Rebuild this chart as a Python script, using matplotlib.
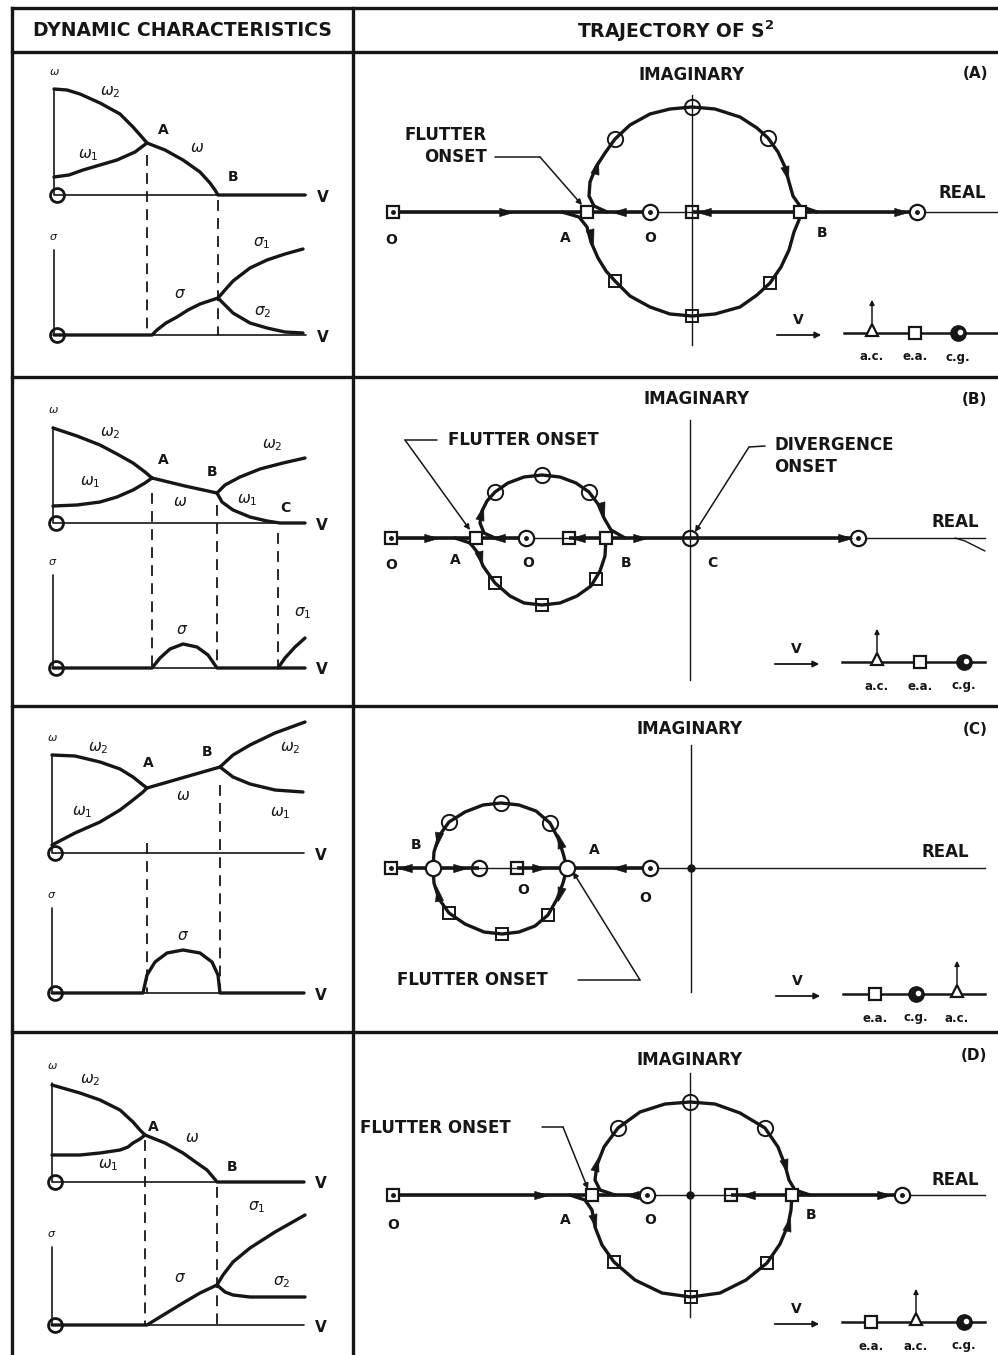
import matplotlib
matplotlib.use('Agg')
import matplotlib.pyplot as plt
from matplotlib.markers import MarkerStyle
from matplotlib.path import Path
from matplotlib.transforms import Affine2D

plt.rcParams['font.family'] = ['DejaVu Sans']
plt.rcParams['mathtext.fontset'] = 'dejavusans'

INK = '#161616'
W, H = 998, 1355
UNIT = 10        # pixels per data unit inside every panel
V_END = 25.2     # length of the V axes in the left column

# ------------------------------------------------------------------
# Dynamic characteristics (left column): curves as (V, omega) / (V, sigma)
# ------------------------------------------------------------------
A_OMEGA2 = [(0, 10.6), (1.3, 10.5), (2.6, 10.1), (4.6, 9.2), (6.6, 8.1), (7.9, 6.8), (8.7, 5.9), (9.3, 5.2)]
A_OMEGA1 = [(0, 1.8), (1.5, 2.0), (2.9, 2.5), (4.6, 3.0), (6.3, 3.5), (8.1, 4.3), (9.3, 5.2)]
A_OMEGA = [(9.3, 5.2), (11.1, 4.5), (12.9, 3.5), (14.6, 2.3), (15.6, 1.2), (16.1, 0.5), (16.4, 0), (25.1, 0)]
A_SIGMA = [(0, 0), (9.8, 0), (10.3, 0.5), (11.2, 1.2), (12.3, 1.8), (13.4, 2.5), (14.6, 3.1), (16.4, 3.7)]
A_SIGMA1 = [(16.4, 3.7), (17.1, 4.5), (17.9, 5.4), (19.6, 6.7), (21.3, 7.5), (23.1, 8.1), (24.9, 8.6)]
A_SIGMA2 = [(16.4, 3.7), (17.1, 3.0), (17.9, 2.2), (19.6, 1.2), (21.3, 0.7), (23.1, 0.3), (24.9, 0.2)]
A_DASHES = [(9.3, 4.0), (16.4, -0.5)]
A_LEFT_LABELS = [(r'$\omega_2$', 5.6, 10.3, 'w'), (r'$\omega_1$', 3.4, 4.0, 'w'), ('A', 10.9, 6.5, 'w'),
                 (r'$\omega$', 14.3, 4.8, 'w'), ('B', 17.9, 1.8, 'w'), (r'$\sigma$', 12.6, 4.2, 's'),
                 (r'$\sigma_1$', 20.8, 9.2, 's'), (r'$\sigma_2$', 20.9, 2.3, 's')]

B_OMEGA2 = [(0, 9.5), (2.4, 8.7), (4.7, 7.8), (6.4, 6.9), (8.0, 6.0), (9.2, 5.1), (9.9, 4.5)]
B_OMEGA1 = [(0, 1.7), (2.4, 1.8), (4.7, 2.1), (6.4, 2.6), (8.0, 3.3), (9.2, 4.0), (9.9, 4.5)]
B_OMEGA = [(9.9, 4.5), (13.2, 3.7), (16.4, 3.0)]
B_OMEGA2_HI = [(16.4, 3.0), (17.2, 3.8), (18.7, 4.6), (20.7, 5.4), (23.0, 6.0), (25.2, 6.5)]
B_OMEGA1_HI = [(16.4, 3.0), (16.9, 2.1), (18.0, 1.3), (19.7, 0.6), (21.4, 0.2), (22.7, 0), (25.2, 0)]
B_SIGMA = [(0, 0), (9.9, 0), (10.7, 1.0), (11.7, 1.9), (13.0, 2.4), (14.4, 2.1), (15.5, 1.3), (16.4, 0), (25.2, 0)]
B_SIGMA1 = [(22.5, 0), (23.2, 1.0), (24.2, 2.1), (25.2, 3.0)]
B_DASHES = [(9.9, 3.0), (16.4, 1.8), (22.5, -1.0)]
B_LEFT_LABELS = [(r'$\omega_2$', 5.7, 9.0, 'w'), (r'$\omega_1$', 3.7, 4.1, 'w'), ('A', 11.0, 6.3, 'w'),
                 (r'$\omega$', 12.7, 2.1, 'w'), ('B', 15.9, 5.1, 'w'), (r'$\omega_2$', 21.9, 7.8, 'w'),
                 (r'$\omega_1$', 19.4, 2.3, 'w'), ('C', 23.2, 1.5, 'w'), (r'$\sigma$', 12.9, 3.8, 's'),
                 (r'$\sigma_1$', 25.0, 5.5, 's')]

C_OMEGA2 = [(0, 9.8), (2.3, 9.7), (4.8, 9.1), (6.8, 8.4), (8.1, 7.6), (9.1, 6.8), (9.5, 6.5)]
C_OMEGA1 = [(0, 0.8), (2.3, 2.0), (4.8, 3.1), (6.8, 4.3), (8.1, 5.3), (9.1, 6.1), (9.5, 6.5)]
C_OMEGA = [(9.5, 6.5), (16.8, 8.6)]
C_OMEGA2_HI = [(16.8, 8.6), (18.1, 9.8), (19.8, 10.8), (22.3, 12.0), (25.3, 13.1)]
C_OMEGA1_HI = [(16.8, 8.6), (18.1, 7.6), (19.8, 6.9), (22.3, 6.3), (25.1, 6.1)]
C_SIGMA = [(0, 0), (9.1, 0), (9.5, 1.8), (10.3, 3.1), (11.5, 4.0), (13.1, 4.3), (14.8, 4.0),
           (16.0, 3.1), (16.6, 1.8), (16.8, 0), (25.2, 0)]
C_DASHES = [(9.5, 1.0), (16.8, 6.8)]
C_LEFT_LABELS = [(r'$\omega_2$', 4.6, 10.5, 'w'), (r'$\omega_1$', 3.0, 4.1, 'w'), ('A', 9.6, 9.0, 'w'),
                 (r'$\omega$', 13.1, 5.8, 'w'), ('B', 15.5, 10.1, 'w'), (r'$\omega_2$', 23.8, 10.5, 'w'),
                 (r'$\omega_1$', 22.8, 4.0, 'w'), (r'$\sigma$', 13.1, 5.8, 's')]

D_OMEGA2 = [(0, 9.7), (1.4, 9.3), (2.8, 8.9), (4.8, 8.2), (6.8, 7.2), (8.1, 6.0), (8.8, 5.2), (9.3, 4.7)]
D_OMEGA1 = [(0, 2.7), (2.8, 2.7), (4.8, 2.9), (6.8, 3.2), (7.6, 3.5), (8.1, 3.9), (8.8, 4.3), (9.3, 4.7)]
D_OMEGA = [(9.3, 4.7), (11.3, 3.9), (13.1, 2.9), (14.5, 1.9), (15.5, 1.2), (16.1, 0.5), (16.5, 0), (25.2, 0)]
D_SIGMA = [(0, 0), (9.5, 0), (10.8, 0.8), (13.1, 2.2), (14.8, 3.2), (16.5, 4.0)]
D_SIGMA1 = [(16.5, 4.0), (17.1, 5.0), (18.1, 6.3), (19.8, 7.7), (22.3, 9.3), (25.3, 11.0)]
D_SIGMA2 = [(16.5, 4.0), (17.3, 3.3), (18.1, 3.0), (19.8, 2.8), (22.3, 2.8), (25.3, 2.8)]
D_DASHES = [(9.3, 4.2), (16.5, -0.5)]
D_LEFT_LABELS = [(r'$\omega_2$', 3.8, 10.2, 'w'), ('A', 10.1, 5.5, 'w'), (r'$\omega$', 14.0, 4.5, 'w'),
                 (r'$\omega_1$', 5.6, 1.7, 'w'), ('B', 18.0, 1.5, 'w'), (r'$\sigma$', 12.8, 4.8, 's'),
                 (r'$\sigma_1$', 20.5, 11.8, 's'), (r'$\sigma_2$', 23.0, 4.3, 's')]

# ------------------------------------------------------------------
# Trajectory of s^2 (right column): (real, imaginary)
# ------------------------------------------------------------------
A_UPPER = [(-8.5, 0), (-9.8, 0.6), (-10.3, 1.6), (-10.2, 3.0), (-9.6, 4.5), (-8.7, 5.9), (-7.7, 7.3),
           (-6.2, 8.7), (-4.2, 9.8), (-2.2, 10.3), (0, 10.5), (2.3, 10.3), (4.8, 9.5), (6.5, 8.4),
           (7.6, 7.4), (8.6, 6.0), (9.3, 4.5), (9.7, 3.0), (10.1, 1.6), (10.8, 0.6), (12.5, 0)]
A_LOWER = [(-13.0, 0), (-11.3, -0.5), (-10.5, -1.5), (-10.1, -3.0), (-9.4, -4.6), (-8.6, -5.9),
           (-7.7, -6.9), (-6.2, -8.4), (-4.2, -9.5), (-2.2, -10.2), (0, -10.4), (2.3, -10.2),
           (4.8, -9.5), (6.5, -8.3), (7.8, -7.1), (8.9, -5.5), (9.7, -3.8), (10.2, -2.0), (10.7, -0.8), (10.8, 0)]
A_PATHS = [(-29.9, -10.5), (-10.5, -4.2), (0, 10.8), (10.8, 22.5)]
A_ARROWS = [(-18.7, 0, 0), (-7.2, 0, 180), (1.3, 0, 180), (20.8, 0, 0),
            (-9.6, 4.4, 75), (-10.1, -2.3, -75), (9.4, 4.0, -75)]
A_ARC_CIRCLES = [(-7.7, 7.3), (0, 10.5), (7.6, 7.4)]
A_ARC_SQUARES = [(-7.7, -6.9), (0, -10.4), (7.8, -7.1)]
A_REAL_MARKS = [(-29.9, 's', 'start'), (-10.5, 's', 'junction'), (-4.2, 'o', 'start'),
                (0, 's', 'mark'), (10.8, 's', 'junction'), (22.5, 'o', 'start')]
A_LETTERS = [('O', -30.1, -2.8), ('A', -12.7, -2.6), ('O', -4.2, -2.6), ('B', 13.0, -2.1)]
A_NOTES = [('FLUTTER', -20.5, 7.7, 'right'), ('ONSET', -20.5, 5.5, 'right')]
A_LEADERS = [[(-19.7, 5.5), (-15.2, 5.5), (-11.0, 0.7)]]
A_LEGEND = ['a.c.', 'e.a.', 'c.g.']

B_UPPER = [(-19.5, 0), (-20.6, 0.5), (-21.0, 1.5), (-20.8, 2.7), (-20.3, 3.7), (-19.5, 4.6), (-18.2, 5.5),
           (-16.6, 6.1), (-14.8, 6.3), (-13.0, 6.1), (-11.4, 5.5), (-10.1, 4.6), (-9.2, 3.4),
           (-8.6, 2.0), (-7.9, 0.8), (-6.5, 0)]
B_LOWER = [(-23.5, 0), (-22.0, -0.5), (-21.2, -1.5), (-20.7, -2.8), (-19.5, -4.5), (-18.0, -5.8),
           (-16.6, -6.5), (-14.8, -6.7), (-13.0, -6.5), (-11.3, -5.8), (-9.9, -4.8), (-9.0, -3.3),
           (-8.5, -1.8), (-8.4, 0)]
B_TAIL = [(26.5, 0), (27.5, -0.3), (28.5, -0.8), (29.5, -1.3)]
B_PATHS = [(-29.9, -21.4), (-21.4, -16.4), (-12.1, -8.4), (-8.4, 16.8)]
B_ARROWS = [(-26.0, 0, 0), (-19.1, 0, 180), (-11.1, 0, 180), (-5.1, 0, 0), (15.4, 0, 0),
            (-20.9, 2.4, 75), (-21.0, -1.9, -75), (-8.8, 3.0, -75)]
B_ARC_CIRCLES = [(-19.5, 4.6), (-14.8, 6.3), (-10.1, 4.6)]
B_ARC_SQUARES = [(-19.5, -4.5), (-14.8, -6.7), (-9.4, -4.1)]
B_REAL_MARKS = [(-29.9, 's', 'start'), (-21.4, 's', 'junction'), (-16.4, 'o', 'start'),
                (-12.1, 's', 'mark'), (-8.4, 's', 'junction'), (0, 'o', 'mark'), (16.8, 'o', 'start')]
B_LETTERS = [('O', -29.9, -2.7), ('A', -23.5, -2.2), ('O', -16.2, -2.5), ('B', -6.4, -2.5), ('C', 2.2, -2.5)]
B_NOTES = [('FLUTTER ONSET', -24.2, 9.8, 'left'), ('DIVERGENCE', 8.4, 9.3, 'left'), ('ONSET', 8.4, 7.1, 'left')]
B_LEADERS = [[(-25.3, 9.8), (-28.5, 9.8), (-22.0, 0.8)], [(7.5, 9.2), (5.9, 9.1), (0.5, 0.6)]]
B_LEGEND = ['a.c.', 'e.a.', 'c.g.']

C_UPPER = [(-12.4, 0), (-12.8, 1.5), (-13.3, 3.0), (-14.1, 4.5), (-15.5, 5.7), (-17.2, 6.3), (-19.0, 6.5),
           (-20.8, 6.3), (-22.6, 5.6), (-24.2, 4.6), (-25.2, 3.2), (-25.7, 1.6), (-25.8, 0)]
C_LOWER = [(-12.4, 0), (-12.8, -1.5), (-13.4, -3.1), (-14.3, -4.7), (-15.6, -5.8), (-17.2, -6.4),
           (-18.9, -6.6), (-20.7, -6.4), (-22.6, -5.6), (-24.2, -4.5), (-25.2, -3.1), (-25.7, -1.5), (-25.8, 0)]
C_PATHS = [(-30.0, -25.8), (-25.8, -21.2), (-17.4, -12.4), (-12.4, -4.1)]
C_ARROWS = [(-28.5, 0, 180), (-23.2, 0, 0), (-15.3, 0, 0), (-7.1, 0, 180),
            (-13.1, 2.6, 105), (-13.1, -2.5, -105), (-25.3, 3.0, -100), (-25.3, -2.7, 100)]
C_ARC_CIRCLES = [(-24.2, 4.6), (-19.0, 6.5), (-14.1, 4.5)]
C_ARC_SQUARES = [(-24.2, -4.5), (-18.9, -6.6), (-14.3, -4.7)]
C_REAL_MARKS = [(-30.0, 's', 'start'), (-25.8, 'o', 'junction'), (-21.2, 'o', 'mark'),
                (-17.4, 's', 'mark'), (-12.4, 'o', 'junction'), (-4.1, 'o', 'start'), (0, 'o', 'origin')]
C_LETTERS = [('B', -27.5, 2.3), ('A', -9.7, 1.8), ('O', -16.8, -2.2), ('O', -4.6, -3.0)]
C_NOTES = [('FLUTTER ONSET', -29.4, -11.2, 'left')]
C_LEADERS = [[(-11.3, -11.2), (-5.1, -11.2), (-11.8, -0.4)]]
C_LEGEND = ['e.a.', 'c.g.', 'a.c.']

D_UPPER = [(-7.5, 0), (-9.0, 0.5), (-9.5, 1.5), (-9.3, 3.0), (-8.6, 4.8), (-7.2, 6.7), (-5.0, 8.3),
           (-2.5, 9.1), (0, 9.3), (2.5, 9.1), (5.0, 8.2), (7.5, 6.7), (8.8, 4.8), (9.5, 3.0),
           (9.9, 1.5), (10.5, 0.5), (12.0, 0)]
D_LOWER = [(-12.0, 0), (-10.5, -0.5), (-9.8, -1.5), (-9.5, -3.2), (-8.8, -5.0), (-7.6, -6.7),
           (-5.5, -8.5), (-2.8, -9.8), (0.1, -10.2), (3.0, -9.8), (5.6, -8.5), (7.7, -6.8),
           (9.0, -4.9), (9.8, -3.0), (10.1, -1.5), (10.2, 0)]
D_PATHS = [(-29.7, -9.8), (-9.8, -4.3), (4.1, 10.2), (10.2, 21.2)]
D_ARROWS = [(-15.0, 0, 0), (-5.7, 0, 180), (5.9, 0, 180), (19.3, 0, 0),
            (-9.4, 3.0, 75), (-9.6, -2.5, -75), (9.5, 3.0, -75), (9.8, -3.0, 75)]
D_ARC_CIRCLES = [(-7.2, 6.7), (0, 9.3), (7.5, 6.7)]
D_ARC_SQUARES = [(-7.6, -6.7), (0.1, -10.2), (7.7, -6.8)]
D_REAL_MARKS = [(-29.7, 's', 'start'), (-9.8, 's', 'junction'), (-4.3, 'o', 'start'),
                (0, 'o', 'origin'), (4.1, 's', 'mark'), (10.2, 's', 'junction'), (21.2, 'o', 'start')]
D_LETTERS = [('O', -29.7, -3.0), ('A', -12.5, -2.5), ('O', -4.0, -2.5), ('B', 12.1, -2.0)]
D_NOTES = [('FLUTTER ONSET', -33.0, 6.7, 'left')]
D_LEADERS = [[(-14.8, 6.8), (-12.7, 6.8), (-10.2, 0.6)]]
D_LEGEND = ['e.a.', 'a.c.', 'c.g.']

TAGS = ['(A)', '(B)', '(C)', '(D)']

# ------------------------------------------------------------------
# layout, in pixels of the 998 x 1355 sheet
# ------------------------------------------------------------------
FRAME_X = (12, 353, 998)
HEADER_Y = (8, 52)
ROWS = [(52, 377), (377, 706), (706, 1032), (1032, 1355)]
LEFT_ORIGIN = [(54, 195, 335), (53, 523, 668), (52, 853, 993), (52, 1182, 1325)]
RIGHT_ORIGIN = [(692, 212), (690, 538), (691, 868), (690, 1195)]
OMEGA_TOP = [10.6, 9.6, 9.8, 9.9]
SIGMA_TOP = [8.5, 9.3, 8.5, 7.8]
IMAG_LIM = [(-13.3, 11.7), (-14.2, 11.8), (-12.4, 12.3), (-12.2, 12.2)]
REAL_END = [30.6, 29.5, 29.4, 29.5]
IMAG_LABEL = [(0, 13.7), (0.7, 13.9), (-0.1, 13.9), (0, 13.5)]
REAL_LABEL = [(27.0, 1.9), (26.5, 1.6), (25.4, 1.6), (26.5, 1.5)]
LEGEND_Y = [-12.1, -12.4, -12.6, -12.7]
LEGEND_X = [[18.0, 22.3, 26.6], [18.7, 23.0, 27.4], [18.4, 22.5, 26.6], [18.1, 22.6, 27.4]]

LEFT_CASES = [
    dict(omega=[A_OMEGA2, A_OMEGA1, A_OMEGA], sigma=[A_SIGMA, A_SIGMA1, A_SIGMA2],
         dashes=A_DASHES, labels=A_LEFT_LABELS),
    dict(omega=[B_OMEGA2, B_OMEGA1, B_OMEGA, B_OMEGA2_HI, B_OMEGA1_HI], sigma=[B_SIGMA, B_SIGMA1],
         dashes=B_DASHES, labels=B_LEFT_LABELS),
    dict(omega=[C_OMEGA2, C_OMEGA1, C_OMEGA, C_OMEGA2_HI, C_OMEGA1_HI], sigma=[C_SIGMA],
         dashes=C_DASHES, labels=C_LEFT_LABELS),
    dict(omega=[D_OMEGA2, D_OMEGA1, D_OMEGA], sigma=[D_SIGMA, D_SIGMA1, D_SIGMA2],
         dashes=D_DASHES, labels=D_LEFT_LABELS),
]
RIGHT_CASES = [
    dict(arcs=[A_UPPER, A_LOWER], thin=[], paths=A_PATHS, arrows=A_ARROWS, circles=A_ARC_CIRCLES,
         squares=A_ARC_SQUARES, marks=A_REAL_MARKS, letters=A_LETTERS, notes=A_NOTES,
         leaders=A_LEADERS, legend=A_LEGEND),
    dict(arcs=[B_UPPER, B_LOWER], thin=[B_TAIL], paths=B_PATHS, arrows=B_ARROWS, circles=B_ARC_CIRCLES,
         squares=B_ARC_SQUARES, marks=B_REAL_MARKS, letters=B_LETTERS, notes=B_NOTES,
         leaders=B_LEADERS, legend=B_LEGEND),
    dict(arcs=[C_UPPER, C_LOWER], thin=[], paths=C_PATHS, arrows=C_ARROWS, circles=C_ARC_CIRCLES,
         squares=C_ARC_SQUARES, marks=C_REAL_MARKS, letters=C_LETTERS, notes=C_NOTES,
         leaders=C_LEADERS, legend=C_LEGEND),
    dict(arcs=[D_UPPER, D_LOWER], thin=[], paths=D_PATHS, arrows=D_ARROWS, circles=D_ARC_CIRCLES,
         squares=D_ARC_SQUARES, marks=D_REAL_MARKS, letters=D_LETTERS, notes=D_NOTES,
         leaders=D_LEADERS, legend=D_LEGEND),
]

# slim arrowhead pointing along +x, rotated per arrow
ARROW_HEAD = Path([(1.0, 0.0), (-0.7, 0.5), (-0.7, -0.5), (1.0, 0.0)],
                  [Path.MOVETO, Path.LINETO, Path.LINETO, Path.CLOSEPOLY])


def make_axes(fig, x0, x1, y0, y1, ox, oy):
    # axes over a pixel box, data origin at pixel (ox, oy), y pointing up
    ax = fig.add_axes([x0 / W, 1 - y1 / H, (x1 - x0) / W, (y1 - y0) / H])
    ax.set_xlim((x0 - ox) / UNIT, (x1 - ox) / UNIT)
    ax.set_ylim((oy - y1) / UNIT, (oy - y0) / UNIT)
    ax.set_axis_off()
    return ax


def curve(ax, pts, lw):
    xs = [p[0] for p in pts]
    ys = [p[1] for p in pts]
    ax.plot(xs, ys, color=INK, lw=lw, solid_capstyle='round', solid_joinstyle='round')


def label(ax, x, y, text, size=10, ha='center'):
    if text.startswith('$'):
        ax.text(x, y, text, ha=ha, va='center', fontsize=11, color=INK)
    else:
        ax.text(x, y, text, ha=ha, va='center', fontsize=size, weight='bold', color=INK)


def draw_left(ax, case, s_off, w_top, s_top):
    curve(ax, [(0, w_top), (0, 0), (V_END, 0)], 1.2)
    curve(ax, [(0, s_off + s_top), (0, s_off), (V_END, s_off)], 1.2)
    for y in (0, s_off):
        ax.plot(0.3, y, 'o', ms=10, mfc='none', mec=INK, mew=2.0)
        label(ax, V_END + 1.7, y - 0.2, 'V', size=11)
    ax.text(0, w_top + 1.7, r'$\omega$', ha='center', va='center', fontsize=8, color=INK)
    ax.text(0, s_off + s_top + 1.3, r'$\sigma$', ha='center', va='center', fontsize=8, color=INK)

    for c in case['omega']:
        curve(ax, c, 2.4)
    for c in case['sigma']:
        curve(ax, [(v, s_off + s) for v, s in c], 2.4)
    for v, top in case['dashes']:
        ax.plot([v, v], [top, s_off], color=INK, lw=1.3, ls=(0, (6, 4)))
    for text, v, y, part in case['labels']:
        label(ax, v, y if part == 'w' else s_off + y, text)


def draw_legend(ax, y, names, xs, x_end):
    ax.annotate('', xy=(13.2, y - 0.2), xytext=(8.2, y - 0.2),
                arrowprops=dict(arrowstyle='-|>', color=INK, lw=1.3, mutation_scale=9))
    label(ax, 10.6, y + 1.3, 'V', size=10)
    ax.plot([15.2, x_end], [y, y], color=INK, lw=1.8)
    for name, x in zip(names, xs):
        if name == 'a.c.':
            ax.annotate('', xy=(x, y + 3.6), xytext=(x, y + 0.4),
                        arrowprops=dict(arrowstyle='-|>', color=INK, lw=1.1, mutation_scale=7))
            ax.plot(x, y + 0.3, '^', ms=9, mfc='white', mec=INK, mew=1.6)
        elif name == 'e.a.':
            ax.plot(x, y, 's', ms=9, mfc='white', mec=INK, mew=1.6)
        else:
            ax.plot(x, y, 'o', ms=11, color=INK)
            ax.plot(x + 0.2, y + 0.15, 'o', ms=3, color='white')
        label(ax, x, y - 2.4, name, size=8.5)


def draw_right(ax, case, i):
    x_lo = case['paths'][0][0]
    ax.plot([x_lo, REAL_END[i]], [0, 0], color=INK, lw=1.0)
    ax.plot([0, 0], IMAG_LIM[i], color=INK, lw=1.0)
    for t in case['thin']:
        curve(ax, t, 1.0)
    for a, b in case['paths']:
        ax.plot([a, b], [0, 0], color=INK, lw=2.6, solid_capstyle='butt')
    for arc in case['arcs']:
        curve(ax, arc, 2.4)
    for x, y, ang in case['arrows']:
        head = MarkerStyle(ARROW_HEAD, transform=Affine2D().rotate_deg(ang))
        ax.plot(x, y, marker=head, ms=12, color=INK, mew=0.4, zorder=4)

    for x, y in case['circles']:
        ax.plot(x, y, 'o', ms=11, mfc='none', mec=INK, mew=1.4)
    for x, y in case['squares']:
        ax.plot(x, y, 's', ms=9, mfc='none', mec=INK, mew=1.4)
    for x, shape, role in case['marks']:
        if role == 'origin':
            ax.plot(x, 0, 'o', ms=5, color=INK)
            continue
        size = 11 if shape == 'o' else 9
        face = 'white' if role in ('junction', 'start') else 'none'
        ax.plot(x, 0, shape, ms=size, mfc=face, mec=INK, mew=1.6, zorder=3)
        if role == 'start':
            ax.plot(x, 0, 'o', ms=2.5, color=INK, zorder=4)

    for text, x, y in case['letters']:
        label(ax, x, y, text, size=10)
    for text, x, y, ha in case['notes']:
        label(ax, x, y, text, size=12, ha=ha)
    for pts in case['leaders']:
        curve(ax, pts[:-1], 1.1)
        ax.annotate('', xy=pts[-1], xytext=pts[-2],
                    arrowprops=dict(arrowstyle='-|>', color=INK, lw=1.1, mutation_scale=8,
                                    shrinkA=0, shrinkB=0))

    label(ax, IMAG_LABEL[i][0], IMAG_LABEL[i][1], 'IMAGINARY', size=12)
    label(ax, REAL_LABEL[i][0], REAL_LABEL[i][1], 'REAL', size=12)
    label(ax, 28.4, 13.9, TAGS[i], size=11)
    draw_legend(ax, LEGEND_Y[i], case['legend'], LEGEND_X[i], REAL_END[i])


fig = plt.figure(figsize=(W / 100, H / 100), dpi=100)
fig.patch.set_facecolor('white')

# frame and headers
bg = fig.add_axes([0, 0, 1, 1])
bg.set_xlim(0, W)
bg.set_ylim(H, 0)
bg.set_axis_off()
x_left, x_mid, x_right = FRAME_X
for y in [HEADER_Y[0], HEADER_Y[1]] + [r[0] for r in ROWS[1:]]:
    bg.plot([x_left, x_right], [y, y], color=INK, lw=2.4)
for x in (x_left, x_mid):
    bg.plot([x, x], [HEADER_Y[0], H], color=INK, lw=2.4)
header_y = (HEADER_Y[0] + HEADER_Y[1]) / 2 + 1
bg.text((x_left + x_mid) / 2, header_y, 'DYNAMIC CHARACTERISTICS', ha='center', va='center',
        fontsize=13.5, weight='bold', color=INK)
bg.text((x_mid + x_right) / 2, header_y, r'TRAJECTORY OF $\mathbf{S^2}$', ha='center', va='center',
        fontsize=13.5, weight='bold', color=INK)

for i, (y0, y1) in enumerate(ROWS):
    ox, oy_w, oy_s = LEFT_ORIGIN[i]
    ax_l = make_axes(fig, x_left, x_mid, y0, y1, ox, oy_w)
    draw_left(ax_l, LEFT_CASES[i], (oy_w - oy_s) / UNIT, OMEGA_TOP[i], SIGMA_TOP[i])

    rx, ry = RIGHT_ORIGIN[i]
    ax_r = make_axes(fig, x_mid, x_right, y0, y1, rx, ry)
    draw_right(ax_r, RIGHT_CASES[i], i)

fig.savefig('out.png', dpi=100, facecolor='white')
